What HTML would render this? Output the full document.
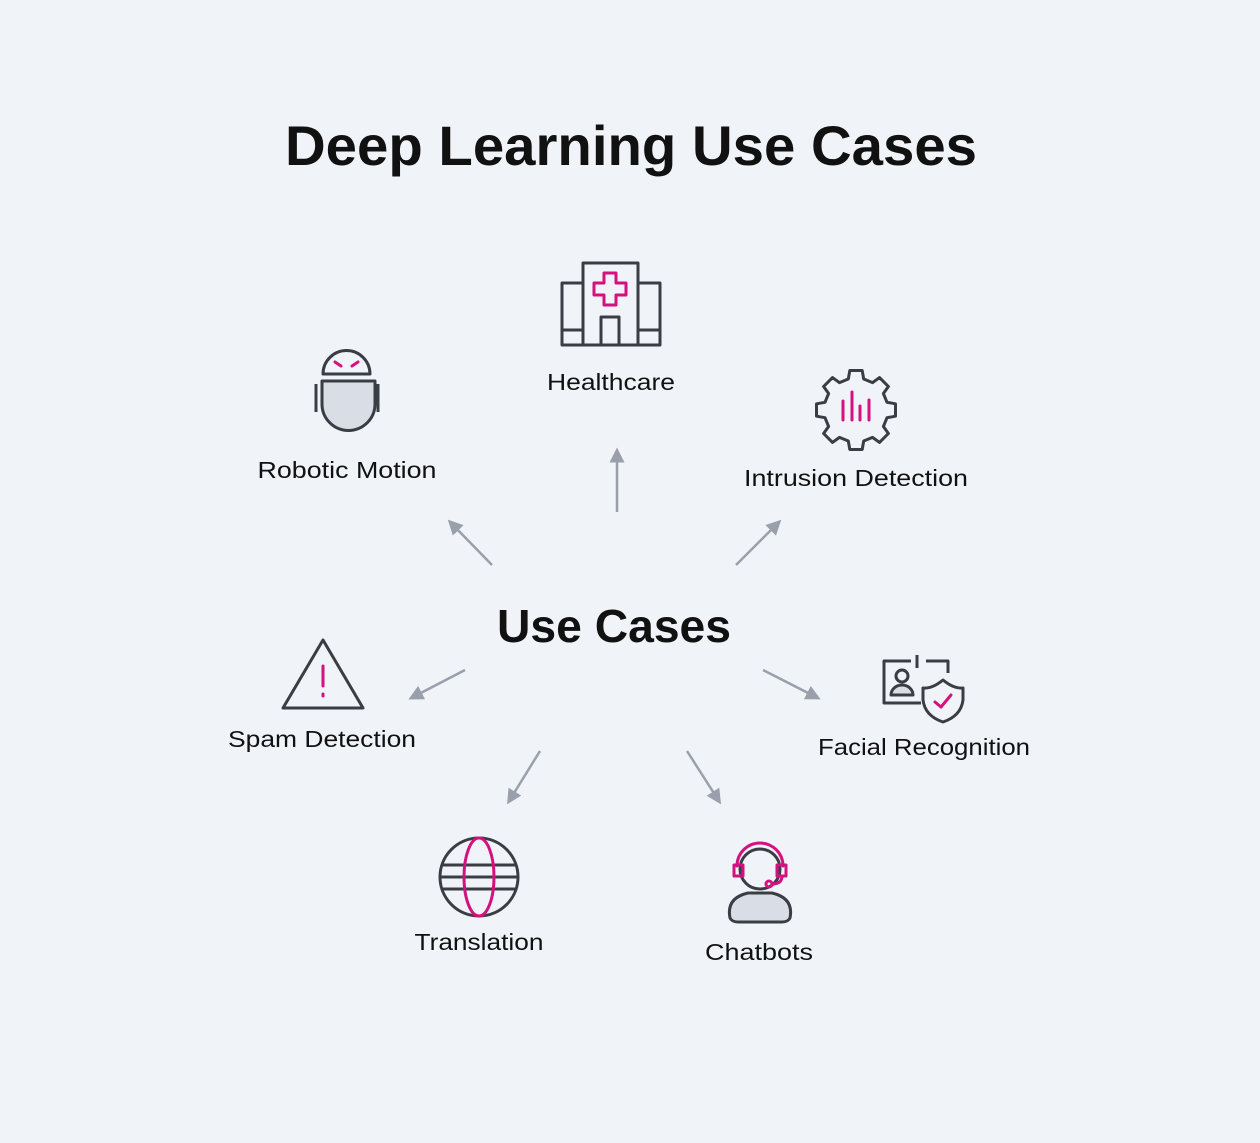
<!DOCTYPE html>
<html><head><meta charset="utf-8"><style>
html,body{margin:0;padding:0;background:#f0f3f8;}
svg{display:block;}
text{font-family:"Liberation Sans",sans-serif;fill:#111;}
</style></head><body>
<svg width="1260" height="1143" viewBox="0 0 1260 1143" xmlns="http://www.w3.org/2000/svg">
<rect width="1260" height="1143" fill="#f0f3f8"/>
<text x="631" y="165" font-size="56" font-weight="bold" text-anchor="middle" textLength="692" lengthAdjust="spacingAndGlyphs">Deep Learning Use Cases</text>
<text x="614" y="642" font-size="46" font-weight="bold" text-anchor="middle" textLength="234" lengthAdjust="spacingAndGlyphs">Use Cases</text>

<g font-size="23">
<text x="611" y="390" text-anchor="middle" textLength="128" lengthAdjust="spacingAndGlyphs">Healthcare</text>
<text x="347" y="478" text-anchor="middle" textLength="179" lengthAdjust="spacingAndGlyphs">Robotic Motion</text>
<text x="856" y="486" text-anchor="middle" textLength="224" lengthAdjust="spacingAndGlyphs">Intrusion Detection</text>
<text x="322" y="747" text-anchor="middle" textLength="188" lengthAdjust="spacingAndGlyphs">Spam Detection</text>
<text x="924" y="755" text-anchor="middle" textLength="212" lengthAdjust="spacingAndGlyphs">Facial Recognition</text>
<text x="479" y="950" text-anchor="middle" textLength="129" lengthAdjust="spacingAndGlyphs">Translation</text>
<text x="759" y="960" text-anchor="middle" textLength="108" lengthAdjust="spacingAndGlyphs">Chatbots</text>
</g>

<defs><marker id="ah" markerWidth="6" markerHeight="6" refX="3" refY="3" orient="auto" markerUnits="strokeWidth">
<path d="M0,0 L6,3 L0,6 Z" fill="#9aa0ab"/></marker></defs>
<g stroke="#9aa0ab" stroke-width="2.5" fill="none" marker-end="url(#ah)">
<line x1="617" y1="512" x2="617" y2="455"/>
<line x1="492" y1="565" x2="453" y2="525"/>
<line x1="736" y1="565" x2="776" y2="525"/>
<line x1="465" y1="670" x2="415" y2="696"/>
<line x1="763" y1="670" x2="814" y2="696"/>
<line x1="540" y1="751" x2="511" y2="798"/>
<line x1="687" y1="751" x2="717" y2="798"/>
</g>

<g stroke="#3a3d43" stroke-width="3" fill="none" stroke-linejoin="round">
<!-- hospital -->
<rect x="562" y="283" width="21" height="62"/>
<rect x="638" y="283" width="22" height="62"/>
<rect x="583" y="263" width="55" height="82"/>
<line x1="562" y1="330" x2="583" y2="330"/>
<line x1="638" y1="330" x2="660" y2="330"/>
<rect x="601" y="317" width="18" height="28"/>
<!-- robot -->
<path d="M323,374 A23.5,23.5 0 0 1 370,374 Z" fill="#f0f3f8"/>
<path d="M322,381 H375 V404 A26.5,26.5 0 0 1 322,404 Z" fill="#d8dde6"/>
<line x1="316" y1="384" x2="316" y2="412"/>
<line x1="378" y1="384" x2="378" y2="412"/>
<!-- gear -->
<polygon transform="translate(856,410)" points="31,-7.7 39.5,-6.2 39.5,6.2 31,7.7 27.4,16.5 32.4,23.5 23.5,32.4 16.5,27.4 7.7,31 6.2,39.5 -6.2,39.5 -7.7,31 -16.5,27.4 -23.5,32.4 -32.4,23.5 -27.4,16.5 -31,7.7 -39.5,6.2 -39.5,-6.2 -31,-7.7 -27.4,-16.5 -32.4,-23.5 -23.5,-32.4 -16.5,-27.4 -7.7,-31 -6.2,-39.5 6.2,-39.5 7.7,-31 16.5,-27.4 23.5,-32.4 32.4,-23.5 27.4,-16.5"/>
<!-- triangle -->
<polygon points="323,640 363,708 283,708"/>
<!-- facial card -->
<path d="M911,661 H884 V703 H921"/>
<path d="M926,661 H948 V673"/>
<line x1="917" y1="655" x2="917" y2="668"/>
<circle cx="902" cy="676" r="6"/>
<path d="M891,695 A11,10 0 0 1 913,695 Z" fill="#d8dde6"/>
<path d="M943,680 Q932,689 923,688 V700 Q925,716 943,722 Q961,716 963,700 V688 Q954,689 943,680 Z" fill="#f0f3f8"/>
<!-- globe -->
<circle cx="479" cy="877" r="39"/>
<line x1="441" y1="865" x2="517" y2="865"/>
<line x1="440" y1="877" x2="518" y2="877"/>
<line x1="441" y1="889" x2="517" y2="889"/>
<!-- chatbot -->
<path d="M730,918 Q726,898 748,893 H772 Q794,898 790,918 Q788,922 782,922 H738 Q732,922 730,918 Z" fill="#d8dde6"/>
<circle cx="760" cy="869" r="20" fill="#f0f3f8"/>
</g>

<g stroke="#d4127f" stroke-width="3" fill="none" stroke-linejoin="round" stroke-linecap="round">
<path d="M604,273 H616 V283 H626 V295 H616 V305 H604 V295 H594 V283 H604 Z"/>
<line x1="335" y1="362" x2="341" y2="366"/>
<line x1="358" y1="362" x2="352" y2="366"/>
<line x1="843" y1="401" x2="843" y2="420"/>
<line x1="852" y1="392" x2="852" y2="420"/>
<line x1="860" y1="406" x2="860" y2="420"/>
<line x1="869" y1="400" x2="869" y2="420"/>
<line x1="323" y1="666" x2="323" y2="686"/>
<line x1="323" y1="694" x2="323" y2="696"/>
<path d="M935,702 L941,707 L951,695"/>
<ellipse cx="479" cy="877" rx="15" ry="39"/>
<path d="M737,866 A23,23 0 0 1 783,866"/>
<rect x="734" y="865" width="9" height="11"/>
<rect x="777" y="865" width="9" height="11"/>
<path d="M782,876 Q782,884 772,884"/>
<circle cx="769" cy="884" r="3"/>
</g>
</svg>
</body></html>
